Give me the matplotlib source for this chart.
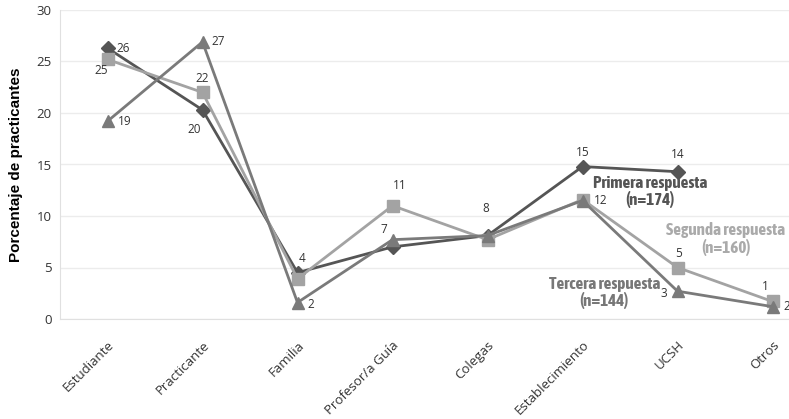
import matplotlib.pyplot as plt

categorias = ['Estudiante', 'Practicante', 'Familia', 'Profesor/a Guía', 'Colegas',
              'Establecimiento', 'UCSH', 'Otros']

# valores (None = sin dato)
primera = [26.3, 20.3, 4.5, 7.0, 8.1, 14.8, 14.3, None]
segunda = [25.2, 22.0, 3.9, 11.0, 7.7, 11.6, 5.0, 1.7]
tercera = [19.2, 26.9, 1.6, 7.7, 8.1, 11.5, 2.7, 1.2]

# etiquetas de datos visibles
etiq_primera = ['26', '20', '4', '7', '8', '15', '14', None]
etiq_segunda = ['25', '22', None, '11', None, '12', '5', '1']
etiq_tercera = ['19', '27', '2', None, None, None, '3', '2']

# desplazamientos de las etiquetas (pixeles)
desp_primera = [(16, 0), (-8, -20), (5, 14), (-9, 17), (-2, 27), (0, 14), (0, 17), None]
desp_segunda = [(-6, -11), (0, 14), None, (7, 20), None, (18, -1), (1, 14), (-7, 15)]
desp_tercera = [(17, 0), (16, 0), (13, -2), None, None, None, (-14, -2), (14, 0)]

series = [
    (primera, etiq_primera, desp_primera, '#555555', 'D', 7),
    (segunda, etiq_segunda, desp_segunda, '#a3a3a3', 's', 8),
    (tercera, etiq_tercera, desp_tercera, '#7a7a7a', '^', 9),
]

fig = plt.figure(figsize=(7.89, 4.19), dpi=100)
ax = fig.add_axes([60 / 789, 100 / 419, 729 / 789, 309 / 419])

for vals, etiq, desp, color, marker, ms in series:
    xs = [i for i, v in enumerate(vals) if v is not None]
    ys = [v for v in vals if v is not None]
    ax.plot(xs, ys, color=color, marker=marker, markersize=ms, linewidth=2, zorder=3)
    for i, v in enumerate(vals):
        if v is None or etiq[i] is None:
            continue
        ax.annotate(etiq[i], (i, v), xytext=desp[i], textcoords='offset pixels',
                    ha='center', va='center', fontsize=8.5, color='#333333',
                    family='Open Sans')

# textos de las series (cada línea por separado)
fuente = ['Asap Condensed', 'DejaVu Sans']
kw = dict(fontsize=12.3, fontweight='bold', ha='center', va='center',
          family=fuente, textcoords='offset pixels')
textos = [
    ('Primera respuesta', '(n=174)', 5.71, 12.4, '#555555'),
    ('Segunda respuesta', '(n=160)', 6.51, 7.8, '#aaaaaa'),
    ('Tercera respuesta', '(n=144)', 5.23, 2.6, '#777777'),
]
for l1, l2, x, y, c in textos:
    ax.annotate(l1, (x, y), xytext=(0, 8.5), color=c, **kw)
    ax.annotate(l2, (x, y), xytext=(0, -8.5), color=c, **kw)

ax.set_xlim(-0.5, 729 / 95 - 0.5)
ax.set_ylim(0, 30)
ax.set_yticks(range(0, 31, 5))
ax.set_xticks(range(len(categorias)))
ax.set_xticklabels(categorias, rotation=45, ha='right', rotation_mode='anchor',
                   fontsize=9.5, family='Open Sans', color='#333333')
for t in ax.get_yticklabels():
    t.set_family('Open Sans')
    t.set_fontsize(9.5)
    t.set_color('#333333')
ax.tick_params(axis='y', length=0, pad=6)
ax.tick_params(axis='x', length=0, pad=14)
ax.grid(axis='y', color='#ececec', linewidth=1)
ax.set_axisbelow(True)
for s in ['top', 'right']:
    ax.spines[s].set_visible(False)
for s in ['left', 'bottom']:
    ax.spines[s].set_color('#e0e0e0')
ax.set_ylabel('Porcentaje de practicantes', fontsize=11, fontweight='bold',
              family='Liberation Sans', labelpad=10)

fig.savefig('out.png', dpi=100)
